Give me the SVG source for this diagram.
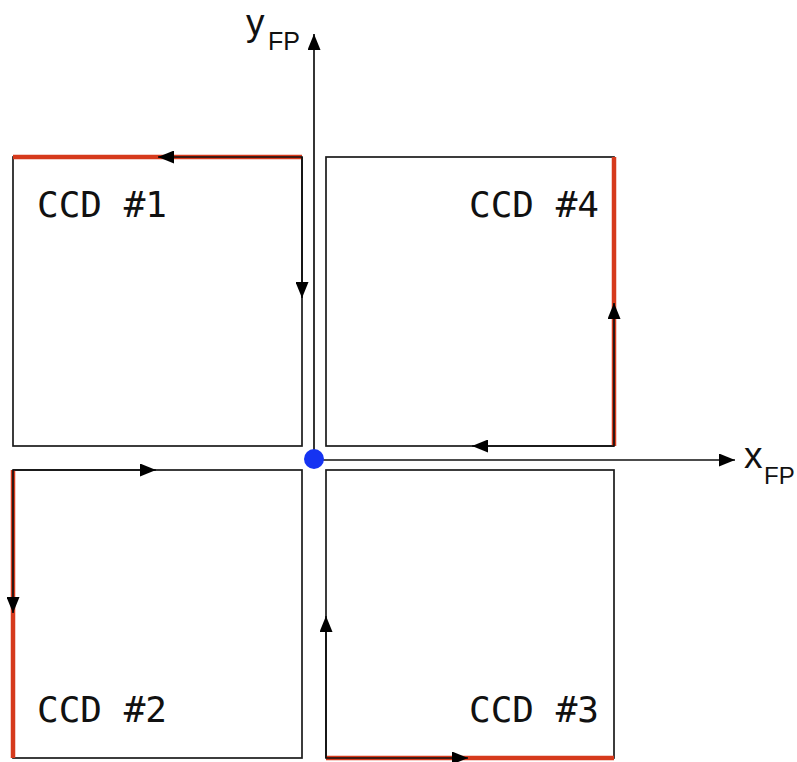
<svg xmlns="http://www.w3.org/2000/svg" width="797" height="762" viewBox="0 0 797 762">
<style>
.box{fill:#fff;stroke:#1a1a1a;stroke-width:1.7}
.red{stroke:#d63a1c;stroke-width:4.5;fill:none;stroke-linecap:butt}
.arr{stroke:#111;stroke-width:1.7;fill:none;marker-end:url(#ah)}
.lbl{font-family:"DejaVu Sans Mono","Liberation Mono",monospace;font-size:36px;fill:#111}
.ax{font-family:"Liberation Sans","Noto Sans",sans-serif;fill:#111}
</style>
<defs>
<marker id="ah" markerUnits="userSpaceOnUse" markerWidth="17" markerHeight="13" refX="16" refY="6.5" orient="auto">
<path d="M0,0 L16,6.5 L0,13 z" fill="#000"/>
</marker>
</defs>
<rect width="797" height="762" fill="#fff"/>
<g id="ccd1">
<rect class="box" x="13" y="157" width="289" height="289"/>
<line class="red" x1="13" y1="157" x2="302" y2="157"/>
<text class="lbl" x="37" y="217">CCD #1</text>
</g>
<g id="ccd4">
<rect class="box" x="326" y="157" width="288" height="289"/>
<line class="red" x1="614" y1="157" x2="614" y2="446"/>
<text class="lbl" x="469" y="217">CCD #4</text>
</g>
<g id="ccd2">
<rect class="box" x="13" y="470" width="289" height="288"/>
<line class="red" x1="13" y1="470" x2="13" y2="758"/>
<text class="lbl" x="37" y="722">CCD #2</text>
</g>
<g id="ccd3">
<rect class="box" x="326" y="470" width="288" height="288"/>
<line class="red" x1="326" y1="758" x2="614" y2="758"/>
<text class="lbl" x="469" y="722">CCD #3</text>
</g>
<g id="connectors">
<line class="arr" x1="302" y1="157" x2="158" y2="157"/>
<line class="arr" x1="302" y1="157" x2="302" y2="298"/>
<line class="arr" x1="614" y1="446" x2="614" y2="303"/>
<line class="arr" x1="614" y1="446" x2="472" y2="446"/>
<line class="arr" x1="13" y1="470" x2="13" y2="613"/>
<line class="arr" x1="13" y1="470" x2="156" y2="470"/>
<line class="arr" x1="326" y1="758" x2="468" y2="758"/>
<line class="arr" x1="326" y1="758" x2="326" y2="616"/>
</g>
<g id="axes">
<line class="arr" x1="314" y1="460" x2="314" y2="34"/>
<line class="arr" x1="314" y1="460" x2="735" y2="460"/>
<circle cx="314" cy="459" r="10" fill="#1533f2"/>
<text class="ax" x="246" y="35" font-size="37">y</text>
<text class="ax" x="268" y="50" font-size="25">FP</text>
<text class="ax" x="744" y="468" font-size="37">x</text>
<text class="ax" x="764" y="484" font-size="24">FP</text>
</g>
</svg>
